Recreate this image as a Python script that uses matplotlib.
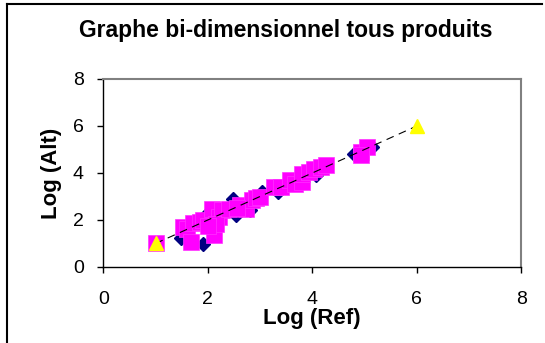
import matplotlib
matplotlib.use("Agg")
import matplotlib.pyplot as plt
from matplotlib.lines import Line2D

plt.rcParams["font.family"] = ["Liberation Sans", "DejaVu Sans"]

# series 1 : diamonds (navy)
diam_x = [1.48, 1.91, 1.98, 2.48, 2.54, 2.81, 3.04, 3.34, 4.07, 4.80, 5.14, 2.30, 1.65, 3.75]
diam_y = [1.25, 0.99, 2.27, 2.90, 2.20, 2.41, 3.19, 3.19, 3.90, 4.82, 5.11, 2.35, 1.70, 3.70]

# series 2 : squares (magenta)
sq_x = [1.00, 1.52, 1.61, 1.68, 1.72, 1.85, 1.91, 2.11, 2.08, 2.21, 2.28, 2.15, 2.40,
        2.61, 2.74, 2.84, 2.92, 3.00, 3.27, 3.41, 3.57, 3.67, 3.81, 3.81, 3.94, 4.04,
        4.17, 4.27, 4.94, 5.04, 4.94, 2.00, 2.55]
sq_y = [1.02, 1.70, 1.63, 1.06, 1.86, 1.90, 2.00, 1.35, 2.48, 2.13, 2.41, 1.85, 2.45,
        2.62, 2.48, 2.84, 2.95, 2.98, 3.40, 3.40, 3.69, 3.55, 3.62, 3.97, 4.04, 4.18,
        4.26, 4.33, 4.89, 5.11, 4.75, 1.75, 2.50]

# series 3 : reference points (yellow triangles) joined by dashed line
tri_x = [1, 6]
tri_y = [1, 6]

xticks = [0, 2, 4, 6, 8]
yticks = [0, 2, 4, 6, 8]

fig = plt.figure(figsize=(5.45, 3.43), dpi=100)
ax = fig.add_axes([0.1895, 0.2216, 0.7670, 0.5481])

ax.plot(tri_x, tri_y, color="black", lw=0.8, ls=(0, (7, 5)), zorder=4)
ax.plot(diam_x, diam_y, ls="", marker="D", ms=7.5, color="#000080", mec="#000080", zorder=2)
ax.plot(sq_x, sq_y, ls="", marker="s", ms=11, color="#FF00FF", mec="#FF33FF", mew=0.5, zorder=3)
ax.plot(tri_x, tri_y, ls="", marker="^", ms=10.5, color="#FFFF00", mec="#FFFF00", zorder=5)

ax.set_xlim(0, 8)
ax.set_ylim(0, 8)
ax.set_xticks(xticks)
ax.set_yticks(yticks)
ax.tick_params(direction="out", length=4, width=1, colors="black", labelsize=14)
ax.tick_params(axis="x", pad=13)
ax.tick_params(axis="y", pad=10)

for side in ["top", "right"]:
    ax.spines[side].set_color("#808080")
    ax.spines[side].set_linewidth(1.5)
for side in ["left", "bottom"]:
    ax.spines[side].set_color("black")
    ax.spines[side].set_linewidth(1)

ax.set_xlabel("Log (Ref)", fontsize=16, fontweight="bold", labelpad=0)
ax.set_ylabel("Log (Alt)", fontsize=16, fontweight="bold", labelpad=8)

fig.text(0.524, 0.912, "Graphe bi-dimensionnel tous produits", ha="center", va="center",
         fontsize=16.5, fontweight="bold")

# chart frame (cropped on right and bottom)
fig.add_artist(Line2D([7 / 545, 542 / 545], [1 - 4 / 343, 1 - 4 / 343], color="black", lw=1.5))
fig.add_artist(Line2D([7 / 545, 7 / 545], [1 - 4 / 343, 0], color="black", lw=1.5))

fig.savefig("out.png", dpi=100)
